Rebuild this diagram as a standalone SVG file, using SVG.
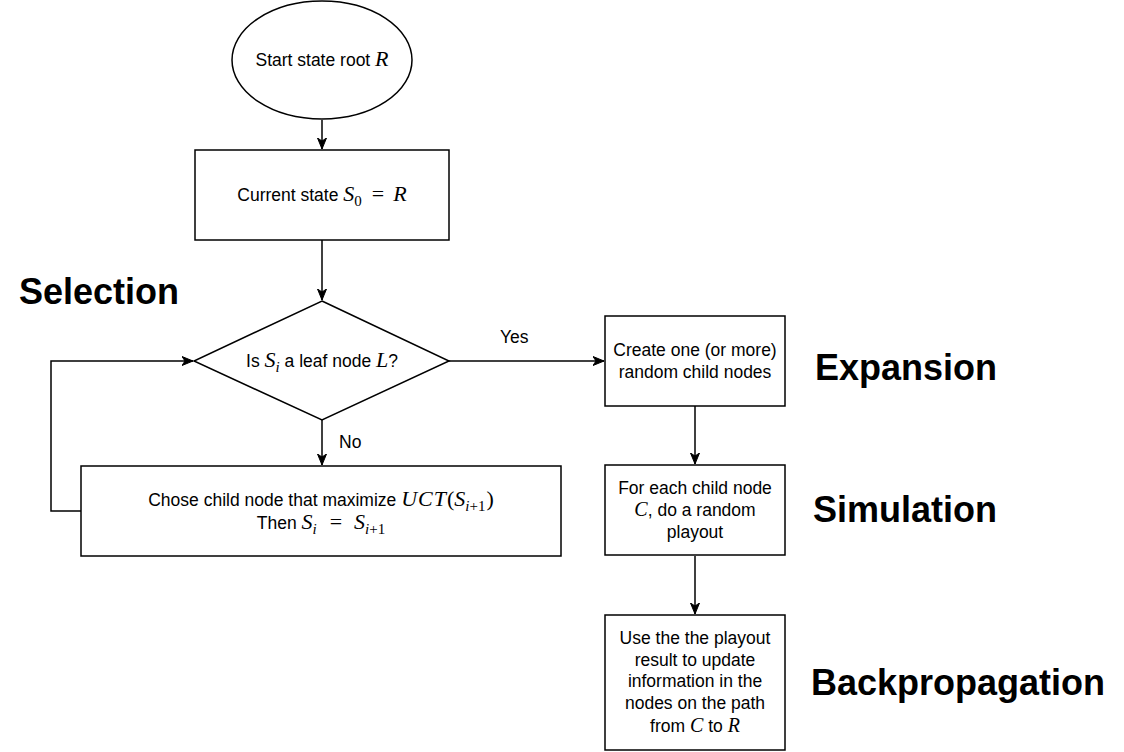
<svg xmlns="http://www.w3.org/2000/svg" width="1124" height="752" viewBox="0 0 1124 752">
<style>
.shape{fill:#fff;stroke:#000;stroke-width:1.5}
.edge{fill:none;stroke:#000;stroke-width:1.5}
.t{font-family:"Liberation Sans",Arial,Helvetica,sans-serif;font-size:17.5px;fill:#000}
.m{font-family:"Liberation Serif","Times New Roman",serif;font-style:italic;font-size:22px}
.mr{font-family:"Liberation Serif","Times New Roman",serif;font-style:normal;font-size:22px}
.sub{font-size:15px}
.ms{font-size:20px}
.h{font-family:"Liberation Sans",Arial,Helvetica,sans-serif;font-size:36px;font-weight:bold;fill:#000}
</style>
<defs>
<marker id="arr" markerUnits="userSpaceOnUse" markerWidth="12" markerHeight="10" refX="11" refY="5" orient="auto">
<path d="M0,0.5 L11,5 L0,9.5 L3,5 z" fill="#000" stroke="#000" stroke-width="1"/>
</marker>
</defs>
<g id="edges">
<path class="edge" d="M322,120 L322,149" marker-end="url(#arr)"/>
<path class="edge" d="M322,240 L322,300" marker-end="url(#arr)"/>
<path class="edge" d="M322,420 L322,465" marker-end="url(#arr)"/>
<path class="edge" d="M81,511 L51,511 L51,361 L193,361" marker-end="url(#arr)"/>
<path class="edge" d="M449,361 L604,361" marker-end="url(#arr)"/>
<path class="edge" d="M695,406 L695,464" marker-end="url(#arr)"/>
<path class="edge" d="M695,556 L695,614" marker-end="url(#arr)"/>
<text class="t" x="500" y="343">Yes</text>
<text class="t" x="339" y="448">No</text>
</g>
<g id="start">
<ellipse class="shape" cx="322" cy="60" rx="90" ry="59"/>
<text class="t" x="322" y="66" text-anchor="middle">Start state root <tspan class="m">R</tspan></text>
</g>
<g id="current">
<rect class="shape" x="195" y="150" width="254" height="90"/>
<text class="t" x="322" y="201" text-anchor="middle">Current state <tspan class="m">S</tspan><tspan class="mr sub" dy="5">0</tspan><tspan class="mr" dy="-5" dx="10">=</tspan><tspan class="m" dx="9">R</tspan></text>
</g>
<g id="leaf">
<path class="shape" d="M322,301 L449,361 L322,420 L194,361 Z"/>
<text class="t" x="322" y="367" text-anchor="middle">Is <tspan class="m">S</tspan><tspan class="m sub" dy="5">i</tspan><tspan dy="-5"> a leaf node </tspan><tspan class="m">L</tspan>?</text>
</g>
<g id="choose">
<rect class="shape" x="81" y="466" width="480" height="90"/>
<text class="t" x="321" y="506" text-anchor="middle">Chose child node that maximize <tspan class="m">U</tspan><tspan class="m" dx="1">C</tspan><tspan class="m" dx="1">T</tspan><tspan class="mr" dx="1">(</tspan><tspan class="m">S</tspan><tspan class="m sub" dy="5">i</tspan><tspan class="mr sub">+1</tspan><tspan class="mr" dy="-5" dx="1">)</tspan></text>
<text class="t" x="321" y="529" text-anchor="middle">Then <tspan class="m">S</tspan><tspan class="m sub" dy="5">i</tspan><tspan class="mr" dy="-5" dx="13">=</tspan><tspan class="m" dx="12">S</tspan><tspan class="m sub" dy="5">i</tspan><tspan class="mr sub">+1</tspan></text>
</g>
<g id="expand">
<rect class="shape" x="605" y="316" width="180" height="90"/>
<text class="t" x="695" y="356" text-anchor="middle">Create one (or more)</text>
<text class="t" x="695" y="378" text-anchor="middle">random child nodes</text>
</g>
<g id="simulate">
<rect class="shape" x="605" y="465" width="180" height="90"/>
<text class="t" x="695" y="494" text-anchor="middle">For each child node</text>
<text class="t" x="695" y="516" text-anchor="middle"><tspan class="m ms">C</tspan>, do a random</text>
<text class="t" x="695" y="538" text-anchor="middle">playout</text>
</g>
<g id="backprop">
<rect class="shape" x="605" y="615" width="180" height="135"/>
<text class="t" x="695" y="644" text-anchor="middle">Use the the playout</text>
<text class="t" x="695" y="666" text-anchor="middle">result to update</text>
<text class="t" x="695" y="687" text-anchor="middle">information in the</text>
<text class="t" x="695" y="709" text-anchor="middle">nodes on the path</text>
<text class="t" x="695" y="732" text-anchor="middle">from <tspan class="m ms">C</tspan> to <tspan class="m ms">R</tspan></text>
</g>
<g id="labels">
<text class="h" x="19" y="304">Selection</text>
<text class="h" x="815" y="380">Expansion</text>
<text class="h" x="813" y="522">Simulation</text>
<text class="h" x="811" y="695">Backpropagation</text>
</g>
</svg>
